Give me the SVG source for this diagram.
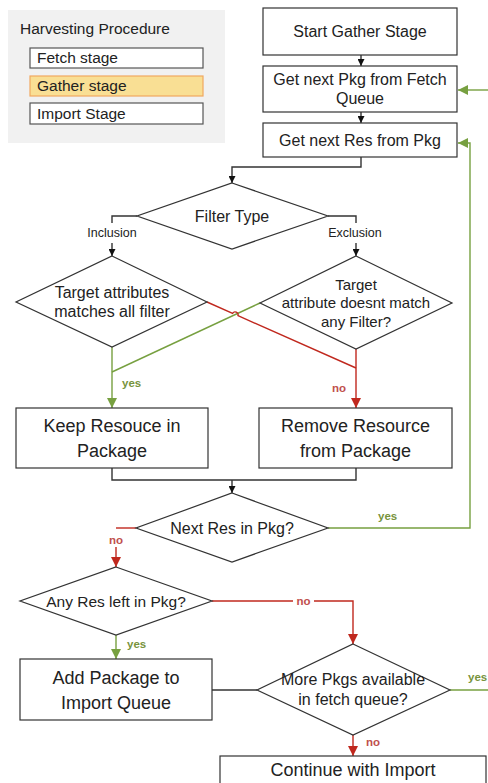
<svg xmlns="http://www.w3.org/2000/svg" width="488" height="783" viewBox="0 0 488 783">
  <style>
    text { font-family: "Liberation Sans", Arial, sans-serif; fill: #222; }
    .node { fill: #fff; stroke: #333; stroke-width: 1.2; }
    .t16 { font-size: 16px; text-anchor: middle; }
    .t18 { font-size: 18px; text-anchor: middle; }
    .lbl { font-size: 12.5px; text-anchor: middle; }
    .conn { fill: none; stroke: #333; stroke-width: 1.4; }
    .green { fill: none; stroke: #77a040; stroke-width: 1.4; }
    .red { fill: none; stroke: #c0281e; stroke-width: 1.4; }
    .yes { font-size: 11.5px; font-weight: bold; fill: #77933c; }
    .no { font-size: 11.5px; font-weight: bold; fill: #c0504d; }
    .legend-item { fill: #fff; stroke: #555; stroke-width: 1.2; }
  </style>
  <defs>
    <marker id="arrow-black" viewBox="0 0 10 10" refX="10" refY="5" markerWidth="8" markerHeight="7" markerUnits="userSpaceOnUse" orient="auto">
      <path d="M0,0 L10,5 L0,10 z" fill="#111"/>
    </marker>
    <marker id="arrow-green" viewBox="0 0 10 10" refX="10" refY="5" markerWidth="11" markerHeight="10" markerUnits="userSpaceOnUse" orient="auto">
      <path d="M0,0 L10,5 L0,10 z" fill="#77a040"/>
    </marker>
    <marker id="arrow-red" viewBox="0 0 10 10" refX="10" refY="5" markerWidth="11" markerHeight="10" markerUnits="userSpaceOnUse" orient="auto">
      <path d="M0,0 L10,5 L0,10 z" fill="#c0281e"/>
    </marker>
  </defs>

  <!-- Legend -->
  <g id="legend">
    <rect x="8" y="10" width="217" height="133" fill="#f1f1f1"/>
    <text x="20" y="34" style="font-size:15.5px">Harvesting Procedure</text>
    <rect class="legend-item" x="30" y="48" width="173" height="20"/>
    <text x="37" y="63" style="font-size:15.5px">Fetch stage</text>
    <rect x="30" y="76" width="173" height="20" fill="#f9df94" stroke="#f0a860" stroke-width="1.2"/>
    <text x="37" y="91" style="font-size:15.5px">Gather stage</text>
    <rect class="legend-item" x="30" y="103" width="173" height="21"/>
    <text x="37" y="119" style="font-size:15.5px">Import Stage</text>
  </g>

  <!-- Connectors -->
  <g id="connectors">
    <path class="conn" d="M361,55 V66" marker-end="url(#arrow-black)"/>
    <path class="conn" d="M361,112 V123" marker-end="url(#arrow-black)"/>
    <path class="conn" d="M361,157 V167 H232 V183" marker-end="url(#arrow-black)"/>
    <path class="conn" d="M137,216 H112 V223"/>
    <path class="conn" d="M112,243 V256" marker-end="url(#arrow-black)"/>
    <path class="conn" d="M328,216 H356 V223"/>
    <path class="conn" d="M356,243 V256" marker-end="url(#arrow-black)"/>
    <text class="lbl" x="112" y="237">Inclusion</text>
    <text class="lbl" x="355" y="237">Exclusion</text>

    <!-- inclusion / exclusion outcomes -->
    <path class="green" d="M260,303 L112,372"/>
    <path class="green" d="M112,347 V408" marker-end="url(#arrow-green)"/>
    <path class="red" d="M207,302 L232.6,313.3 A3,3 0 0 1 238,315.7 L356,368"/>
    <path class="red" d="M356,349 V408" marker-end="url(#arrow-red)"/>
    <text class="yes" x="122" y="387">yes</text>
    <text class="no" x="346" y="392" text-anchor="end">no</text>

    <!-- merge into next-resource decision -->
    <path class="conn" d="M112,468 V480 H356 V468"/>
    <path class="conn" d="M232,480 V493" marker-end="url(#arrow-black)"/>

    <!-- loop back for next resource -->
    <path class="green" d="M328,528 H470 V143 H458" marker-end="url(#arrow-green)"/>
    <text class="yes" x="378" y="520">yes</text>
    <path class="red" d="M136,528 H116"/>
    <path class="red" d="M116,547 V567" marker-end="url(#arrow-red)"/>
    <text class="no" x="116" y="544" text-anchor="middle">no</text>

    <!-- resources left decision -->
    <path class="green" d="M116,635 V659" marker-end="url(#arrow-green)"/>
    <text class="yes" x="127" y="648">yes</text>
    <path class="red" d="M212,601 H293"/>
    <path class="red" d="M314,601 H353 V644" marker-end="url(#arrow-red)"/>
    <text class="no" x="303.5" y="605" text-anchor="middle">no</text>

    <path class="conn" d="M212,690 H257"/>

    <!-- more packages decision -->
    <path class="green" d="M450,690 H488"/>
    <text class="yes" x="468" y="681">yes</text>
    <path class="green" d="M488,90 H458" marker-end="url(#arrow-green)"/>
    <path class="red" d="M353,735 V756" marker-end="url(#arrow-red)"/>
    <text class="no" x="366" y="746">no</text>
  </g>

  <!-- Nodes -->
  <g id="start">
    <rect class="node" x="263" y="8" width="194" height="47"/>
    <text class="t16" x="360" y="37">Start Gather Stage</text>
  </g>
  <g id="get-pkg">
    <rect class="node" x="263" y="66" width="194" height="46"/>
    <text class="t16" x="360" y="85">Get next Pkg from Fetch</text>
    <text class="t16" x="360" y="104">Queue</text>
  </g>
  <g id="get-res">
    <rect class="node" x="263" y="123" width="194" height="34"/>
    <text class="t16" x="360" y="146">Get next Res from Pkg</text>
  </g>
  <g id="filter-type">
    <polygon class="node" points="232,183 328,216 232,249 137,216"/>
    <text class="t16" x="232" y="222">Filter Type</text>
  </g>
  <g id="inclusion-check">
    <polygon class="node" points="112,256 207,302 112,347 16,302"/>
    <text class="t16" x="112" y="298">Target attributes</text>
    <text class="t16" x="112" y="317">matches all filter</text>
  </g>
  <g id="exclusion-check">
    <polygon class="node" points="356,256 452,303 356,349 260,303"/>
    <text class="t16" x="356" y="290" style="font-size:15px">Target</text>
    <text class="t16" x="356" y="308" style="font-size:15px">attribute doesnt match</text>
    <text class="t16" x="356" y="327" style="font-size:15px">any Filter?</text>
  </g>
  <g id="keep-resource">
    <rect class="node" x="16" y="408" width="192" height="60"/>
    <text class="t18" x="112" y="432">Keep Resouce in</text>
    <text class="t18" x="112" y="457">Package</text>
  </g>
  <g id="remove-resource">
    <rect class="node" x="259" y="408" width="193" height="60"/>
    <text class="t18" x="355.5" y="432">Remove Resource</text>
    <text class="t18" x="355.5" y="457">from Package</text>
  </g>
  <g id="next-res">
    <polygon class="node" points="232,493 328,528 232,562 136,528"/>
    <text class="t16" x="232" y="534">Next Res in Pkg?</text>
  </g>
  <g id="any-res-left">
    <polygon class="node" points="116,567 212,601 116,635 20,601"/>
    <text class="t16" x="116" y="607" style="font-size:15.5px">Any Res left in Pkg?</text>
  </g>
  <g id="add-package">
    <rect class="node" x="20" y="659" width="192" height="61"/>
    <text class="t18" x="116" y="684">Add Package to</text>
    <text class="t18" x="116" y="709">Import Queue</text>
  </g>
  <g id="more-pkgs">
    <polygon class="node" points="353,644 450,690 353,735 257,690"/>
    <text class="t16" x="353" y="685">More Pkgs available</text>
    <text class="t16" x="353" y="705">in fetch queue?</text>
  </g>
  <g id="continue-import">
    <rect class="node" x="220" y="756" width="266" height="40"/>
    <text class="t18" x="353" y="776">Continue with Import</text>
  </g>
</svg>
